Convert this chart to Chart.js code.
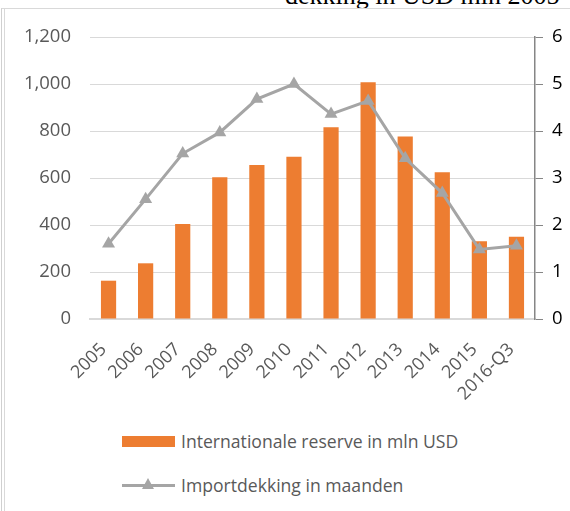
<!DOCTYPE html>
<html>
<head>
<meta charset="utf-8">
<script src="https://cdn.jsdelivr.net/npm/chart.js@4.4.1/dist/chart.umd.min.js"></script>
<style>
  html, body { margin: 0; padding: 0; background: #fff; }
  body { width: 570px; height: 511px; position: relative; overflow: hidden; font-family: "Open Sans", sans-serif; }
  #title { position: absolute; left: 285px; top: -17px; font: 26px "Liberation Serif", serif; line-height: 26px; white-space: nowrap; color: #000; }
  #frame { position: absolute; left: 1px; top: 8px; width: 600px; height: 600px; border-left: 1px solid #d0d0d0; border-top: 1px solid #d9d9d9; }
  #frame2 { position: absolute; left: 4px; top: 9px; width: 1px; height: 600px; background: #d9d9d9; }
  #wrap { position: absolute; left: 0; top: 0; width: 570px; height: 420px; }
  .leg { position: absolute; left: 122px; display: flex; align-items: center; font-size: 17.6px; color: #595959; white-space: nowrap; }
  .box { width: 53px; height: 11px; background: #ed7d31; margin-right: 6px; }
  .sym { width: 53px; height: 14px; margin-right: 6px; position: relative; }
  .sym .ln { position: absolute; left: 0; right: 0; top: 6px; height: 3px; background: #a5a5a5; }
  .sym .tri { position: absolute; left: 20px; top: 0; width: 0; height: 0; border-left: 6px solid transparent; border-right: 6px solid transparent; border-bottom: 11px solid #a5a5a5; }
</style>
</head>
<body>
<div id="title">dekking in USD mln 2005</div>
<div id="frame"></div>
<div id="frame2"></div>
<div id="wrap"><canvas id="chart" width="570" height="420"></canvas></div>
<div class="leg" style="top:429px"><div class="box"></div><span>Internationale reserve in mln USD</span></div>
<div class="leg" style="top:473px"><div class="sym"><div class="ln"></div><div class="tri"></div></div><span>Importdekking in maanden</span></div>
<script>
const years = ["2005", "2006", "2007", "2008", "2009", "2010", "2011", "2012", "2013", "2014", "2015", "2016-Q3"]
const reserve = [163, 237, 404, 603, 655, 690, 816, 1007, 777, 624, 331, 350]
const importMonths = [1.6, 2.55, 3.52, 3.97, 4.68, 5.0, 4.36, 4.64, 3.42, 2.68, 1.48, 1.56]
const leftTicks = [0, 200, 400, 600, 800, 1000, 1200]
const rightTicks = [0, 1, 2, 3, 4, 5, 6]

new Chart(document.getElementById("chart"), {
  data: {
    labels: years,
    datasets: [
      {
        type: 'line',
        label: "Importdekking in maanden",
        data: importMonths,
        yAxisID: 'y1',
        borderColor: '#a5a5a5',
        backgroundColor: '#a5a5a5',
        borderWidth: 3,
        pointStyle: 'triangle',
        pointRadius: 7.5,
        pointBorderWidth: 0,
        tension: 0,
        order: 0
      },
      {
        type: 'bar',
        label: "Internationale reserve in mln USD",
        data: reserve,
        yAxisID: 'y',
        backgroundColor: '#ed7d31',
        barPercentage: 0.41,
        categoryPercentage: 1,
        order: 1
      }
    ]
  },
  options: {
    responsive: false,
    animation: false,
    layout: { padding: { top: 37, left: 0, right: 0, bottom: 0 } },
    plugins: { legend: { display: false }, tooltip: { enabled: false } },
    scales: {
      x: {
        grid: { display: false, drawTicks: false },
        border: { color: '#d9d9d9', width: 2 },
        ticks: { color: '#595959', font: { family: 'Open Sans', size: 18 }, maxRotation: 45, minRotation: 45, padding: 20, labelOffset: -5, autoSkip: false },
        afterFit: (s) => { s.height = 101 }
      },
      y: {
        position: 'left',
        min: 0, max: 1200,
        afterBuildTicks: (s) => { s.ticks = leftTicks.map(v => ({ value: v })) },
        grid: { color: '#d9d9d9', lineWidth: 1, drawTicks: false },
        border: { display: false },
        ticks: { color: '#595959', font: { family: 'Open Sans', size: 18.5 }, padding: 19, callback: (v) => v.toLocaleString('en-US') },
        afterFit: (s) => { s.width = 90 }
      },
      y1: {
        position: 'right',
        min: 0, max: 6,
        afterBuildTicks: (s) => { s.ticks = rightTicks.map(v => ({ value: v })) },
        grid: { drawOnChartArea: false, color: '#868686', tickLength: 8 },
        border: { color: '#868686', width: 1.5 },
        ticks: { color: '#000', font: { family: 'Open Sans', size: 18.5 }, padding: 9 },
        afterFit: (s) => { s.width = 35 }
      }
    }
  }
})
</script>
</body>
</html>
